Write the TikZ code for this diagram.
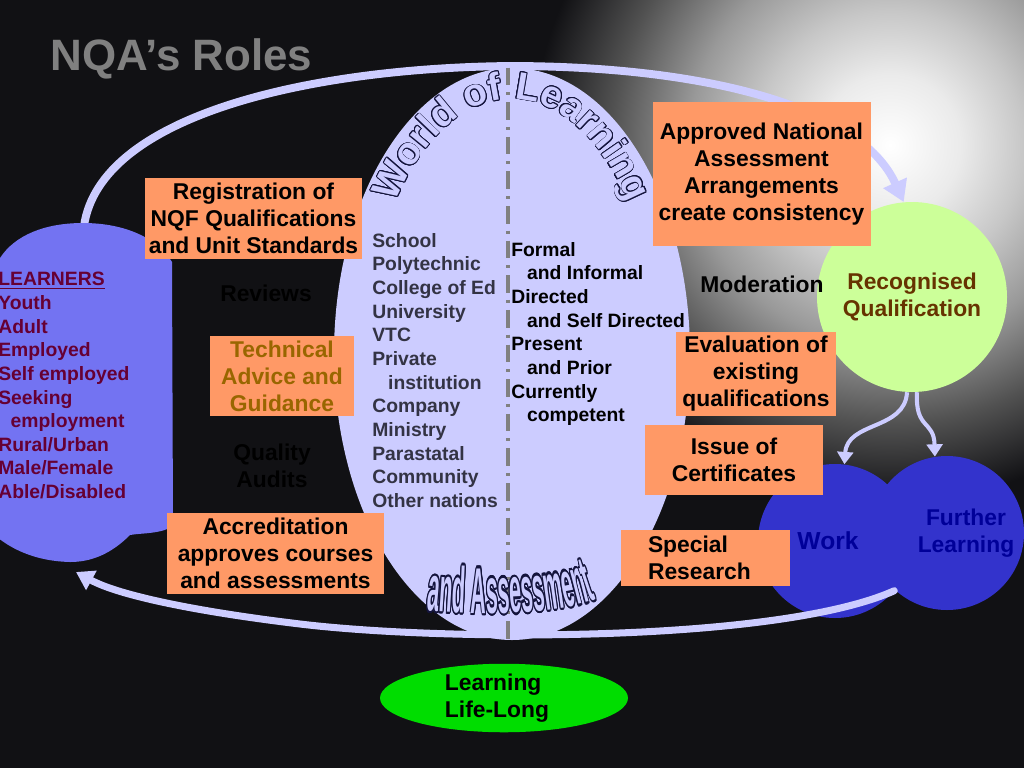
\documentclass[tikz,border=0pt]{standalone}
\usepackage{fontspec}
\setmainfont{Liberation Sans}
\usepackage{graphicx}
\usepackage[copies]{contour}
\usetikzlibrary{arrows.meta,decorations.text,shapes.geometric}

\definecolor{bgc}{RGB}{17,17,20}
\definecolor{lav}{RGB}{204,204,255}
\definecolor{learnblue}{RGB}{115,115,242}
\definecolor{boxorange}{RGB}{255,153,102}
\definecolor{advbrown}{RGB}{153,102,0}
\definecolor{learnred}{RGB}{102,0,51}
\definecolor{qualgreen}{RGB}{204,255,153}
\definecolor{qualbrown}{RGB}{102,51,0}
\definecolor{workblue}{RGB}{51,51,204}
\definecolor{worktext}{RGB}{0,0,153}
\definecolor{lifegreen}{RGB}{0,221,0}
\definecolor{listgrey}{RGB}{51,51,68}
\definecolor{titlegrey}{RGB}{128,128,128}
\definecolor{inkline}{RGB}{20,20,60}
\colorlet{glowa}{white!92!black}
\colorlet{glowb}{white!78!black}
\colorlet{glowc}{white!60!black}
\colorlet{glowd}{white!32!black}

% sizes in bp, 1px of the slide = 0.565bp
\pgfdeclareradialshading{glow}{\pgfpointorigin}{color(0bp)=(white); color(40bp)=(glowa);
  color(76bp)=(glowb); color(114bp)=(glowc); color(158bp)=(glowd); color(203bp)=(bgc); color(215bp)=(bgc)}

\newcommand\pxu{0.02cm}
\contourlength{0.45pt}
\newcommand\worldchar[1]{{\fontsize{22}{22}\selectfont\bfseries\color{lav}\contour{inkline}{#1}}}
\newcommand\assesschar[1]{\scalebox{1}[3]{\fontsize{12.3}{12}\selectfont\bfseries\color{lav}\contour{inkline}{#1}}}

\begin{document}
\begin{tikzpicture}[x=0.02cm,y=0.02cm,
    rolebox/.style={rectangle,fill=boxorange,inner sep=0pt,align=center,text=black,
      font=\fontsize{13}{15.4}\selectfont\bfseries},
    plain/.style={inner sep=0pt,align=left,anchor=north west,font=\fontsize{11}{13.45}\selectfont\bfseries},
    tag/.style={inner sep=0pt,align=center,font=\fontsize{13}{15.4}\selectfont\bfseries},
    bubble/.style={circle,inner sep=0pt},
    flow/.style={draw=lav,line width=4.5pt,line cap=round},
    branch/.style={draw=lav,line width=2.3pt,-{Triangle[width=9pt,length=7pt]}}]
  \useasboundingbox (0,0) rectangle (1024,-768);
  \fill[bgc] (0,0) rectangle (1024,-768);
  \clip (0,0) rectangle (1024,-768);
  \node[inner sep=0pt] (glow) at (890,-145) {\pgfuseshading{glow}};

  \node[ellipse,fill=lav,inner sep=0pt,minimum width=356*\pxu,minimum height=572*\pxu] (world) at (512,-354) {};

  \node[bubble,fill=qualgreen,minimum size=190*\pxu,text=qualbrown,font=\fontsize{13}{15.4}\selectfont\bfseries,align=center]
    (qual) at (912,-297) {Recognised\\Qualification};
  \node[bubble,fill=workblue,minimum size=154*\pxu,
    label={[tag,text=worktext,font=\fontsize{14}{16}\selectfont\bfseries,xshift=-7*\pxu]center:Work}] (work) at (835,-541) {};
  \node[bubble,fill=workblue,minimum size=154*\pxu,
    label={[tag,text=worktext,xshift=19*\pxu]center:Further\\Learning}] (further) at (947,-533) {};

  \coordinate (learntop) at (84,-226);
  \coordinate (learnbottom) at (76,-572);

  % the big loop
  \draw[flow,-{Triangle[width=14pt,length=12pt]}] (learntop) .. controls (100,-115) and (310,-68) .. (510,-66)
    .. controls (700,-66) and (860,-105) .. (qual.95);
  \draw[flow,line width=4pt,-{Triangle[width=12pt,length=10pt]}] (work.-40) .. controls (780,-642) and (450,-642) .. (300,-624)
    .. controls (200,-612) and (120,-596) .. (learnbottom);

  \fill[learnblue] (-20,-275) -- (0,-258) .. controls (15,-235) and (45,-223) .. (83,-223)
    .. controls (120,-223) and (155,-235) .. (172,-262) -- (173,-525)
    .. controls (165,-534) and (140,-533) .. (130,-535) .. controls (110,-555) and (90,-562) .. (70,-562)
    .. controls (30,-561) and (0,-545) .. (-20,-520) -- cycle;

  \draw[titlegrey,line width=1.9pt,dash pattern=on 10pt off 4pt on 1.7pt off 4pt]
    ([xshift=-4*\pxu]world.north) -- ([xshift=-4*\pxu]world.south);

  \path[decorate,decoration={text effects along path,text={World of Learning},text align=center,
      text effects/.cd,text along path,character command=\worldchar}]
    (512,-354) ++(160:145 and 255) arc[start angle=160,end angle=20,x radius=145,y radius=255];
  \path[decorate,decoration={text effects along path,text={and Assessment},text align=center,
      text effects/.cd,text along path,character command=\assesschar}]
    (423,-610) .. controls (480,-616) and (560,-614) .. (600,-598);

  \node[plain,text=learnred] (learners) at (-2,-272) {\underline{LEARNERS}\\Youth\\Adult\\Employed\\Self employed\\Seeking\\
    \hspace*{7pt}employment\\Rural/Urban\\Male/Female\\Able/Disabled};
  \node[plain,text=listgrey] (places) at (372,-233) {School\\Polytechnic\\College of Ed\\University\\VTC\\Private\\
    \hspace*{9pt}institution\\Company\\Ministry\\Parastatal\\Community\\Other nations};
  \node[plain,text=black] (modes) at (511,-242) {Formal\\\hspace*{9pt}and Informal\\Directed\\\hspace*{9pt}and Self Directed\\
    Present\\\hspace*{9pt}and Prior\\Currently\\\hspace*{9pt}competent};

  \draw[branch] (qual.-93) .. controls +(-2,-38) and +(3,43) .. (work.83);
  \draw[branch] (qual.-87) .. controls +(-2,-38) and +(-1,37) .. (further.99);

  \node[rolebox,minimum width=217*\pxu,minimum height=81*\pxu] (register) at (253.5,-218.5)
    {Registration of\\NQF Qualifications\\and Unit Standards};
  \node[rolebox,text=advbrown,minimum width=144*\pxu,minimum height=80*\pxu] (advice) at (282,-376)
    {Technical\\Advice and\\Guidance};
  \node[rolebox,minimum width=217*\pxu,minimum height=81*\pxu] (accredit) at (275.5,-553.5)
    {Accreditation\\approves courses\\and assessments};
  \node[rolebox,minimum width=218*\pxu,minimum height=144*\pxu] (approved) at (761.5,-174)
    {Approved National\\Assessment\\Arrangements\\create consistency};
  \node[rolebox,minimum width=160*\pxu,minimum height=84*\pxu] (evaluate) at (756,-374)
    {Evaluation of\\existing\\qualifications};
  \node[rolebox,minimum width=178*\pxu,minimum height=70*\pxu] (issue) at (734,-460) {Issue of\\Certificates};
  \node[rolebox,align=left,text width=115*\pxu,minimum width=169*\pxu,minimum height=56*\pxu] (research) at (705.5,-558)
    {Special\\Research};

  \node[tag,text=black] (reviews) at (266,-293) {Reviews};
  \node[tag,text=black] (audits) at (272,-466) {Quality\\Audits};
  \node[tag,text=black] (moderation) at (762,-284) {Moderation};

  \node[ellipse,fill=lifegreen,inner sep=0pt,minimum width=248*\pxu,minimum height=62*\pxu,align=left,
    font=\fontsize{13}{15.4}\selectfont\bfseries] (lifelong) at (504,-698) {Learning\\Life-Long\hspace*{8pt}};

  \node[anchor=base west,inner sep=0pt,text=titlegrey,font=\fontsize{25}{30}\selectfont\bfseries] (title) at (50,-70) {NQA’s Roles};
\end{tikzpicture}
\end{document}
